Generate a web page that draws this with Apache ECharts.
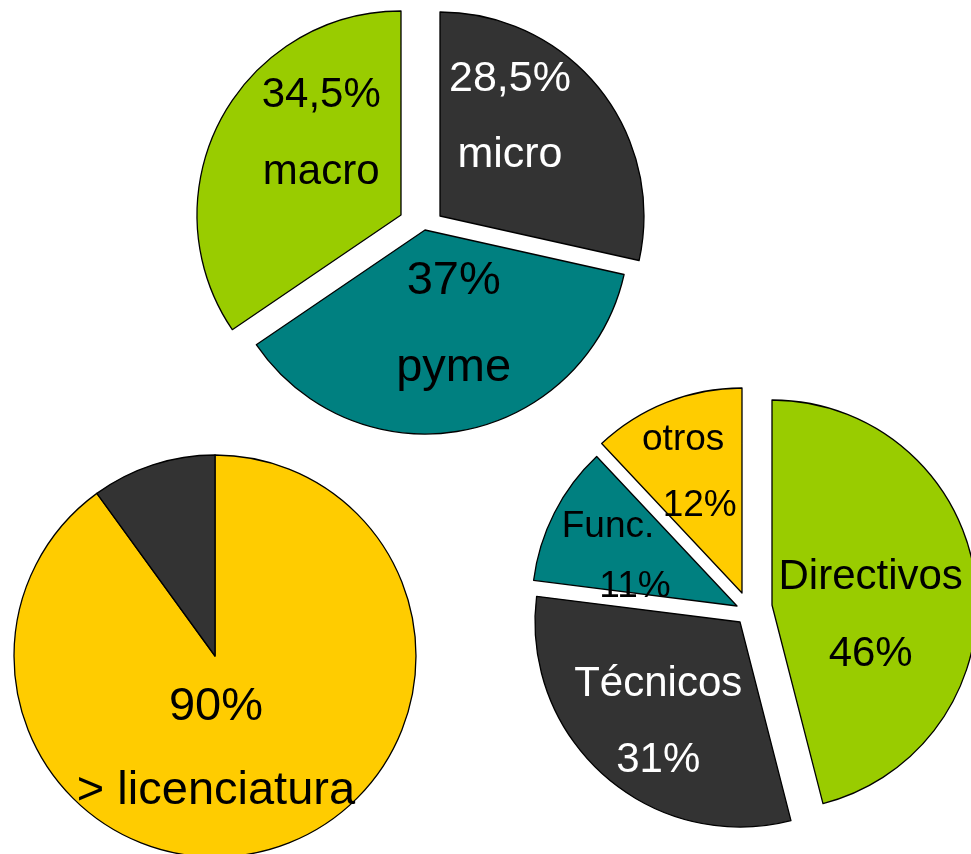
<!DOCTYPE html>
<html>
<head>
<meta charset="utf-8">
<script src="https://cdn.jsdelivr.net/npm/echarts@6/dist/echarts.min.js"></script>
<style>
html, body { margin: 0; padding: 0; background: #fff; }
#chart { width: 971px; height: 854px; }
</style>
</head>
<body>
<div id="chart"></div>
<script>
// tamaño de empresa
const empresaNames = ['micro', 'pyme', 'macro']
const empresaValues = [28.5, 37, 34.5]

// nivel de estudios
const estudiosNames = ['> licenciatura', 'otros']
const estudiosValues = [90, 10]

// puesto
const puestoNames = ['Directivos', 'Técnicos', 'Func.', 'otros']
const puestoValues = [46, 31, 11, 12]

const GREEN = '#99cc00'
const DARK = '#333333'
const TEAL = '#008080'
const YELLOW = '#ffcc00'
const FONT = '"Liberation Sans", Arial, sans-serif'

const fmtPct = v => String(v).replace('.', ',') + '%'

// one pie series per slice, so each slice can be pulled out by its own amount
function slices (names, values, radius, styles) {
  return names.map((name, i) => {
    const s = styles[i]
    return {
      type: 'pie',
      radius: radius,
      center: s.center,
      silent: true,
      animation: false,
      emphasis: { disabled: true },
      labelLayout: () => ({ dx: s.dx || 0, dy: s.dy || 0 }),
      data: values.map((v, j) => {
        if (j !== i) {
          return {
            name: names[j],
            value: v,
            itemStyle: { color: 'rgba(0,0,0,0)', borderWidth: 0 },
            label: { show: false }
          }
        }
        return {
          name: names[j],
          value: v,
          itemStyle: { color: s.color, borderColor: '#000', borderWidth: 1.3 },
          label: s.size ? {
            show: true,
            position: 'inside',
            overflow: 'none',
            formatter: p => s.pctFirst
              ? '{a|' + fmtPct(p.value) + '}\n{b|' + p.name + '}'
              : '{a|' + p.name + '}\n{b|' + fmtPct(p.value) + '}',
            rich: {
              a: { fontFamily: FONT, fontSize: s.size, lineHeight: s.lh, color: s.text },
              b: { fontFamily: FONT, fontSize: s.size, lineHeight: s.lh, color: s.text, padding: [0, 0, 0, s.pad || 0] }
            }
          } : { show: false }
        }
      })
    }
  })
}

const chart = echarts.init(document.getElementById('chart'))

const series = [].concat(
  slices(empresaNames, empresaValues, 204, [
    { center: [440, 216], color: DARK, text: '#fff', size: 43, lh: 76, pctFirst: true, dx: -12, dy: -33 },
    { center: [425, 230], color: TEAL, text: '#000', size: 47, lh: 87, pctFirst: true, dx: 9, dy: -9 },
    { center: [401, 215], color: GREEN, text: '#000', size: 42, lh: 77, pctFirst: true, dx: 13, dy: -32 }
  ]),
  slices(estudiosNames, estudiosValues, 201, [
    { center: [215, 656], color: YELLOW, text: '#000', size: 47, lh: 84, pctFirst: true, dx: -31, dy: -5 },
    { center: [215, 656], color: DARK }
  ]),
  slices(puestoNames, puestoValues, 205, [
    { center: [772, 605], color: GREEN, text: '#000', size: 42, lh: 77, dx: -6, dy: 24 },
    { center: [740, 622], color: DARK, text: '#fff', size: 42, lh: 76, dx: -12, dy: 21 },
    { center: [737, 606], color: TEAL, text: '#000', size: 37, lh: 60, pad: 54, dx: -35, dy: -1 },
    { center: [742, 593], color: YELLOW, text: '#000', size: 37, lh: 66, pad: 33, dx: -20, dy: -22 }
  ])
)

chart.setOption({
  backgroundColor: '#fff',
  animation: false,
  series: series
})

window.addEventListener('resize', () => chart.resize())
</script>
</body>
</html>
